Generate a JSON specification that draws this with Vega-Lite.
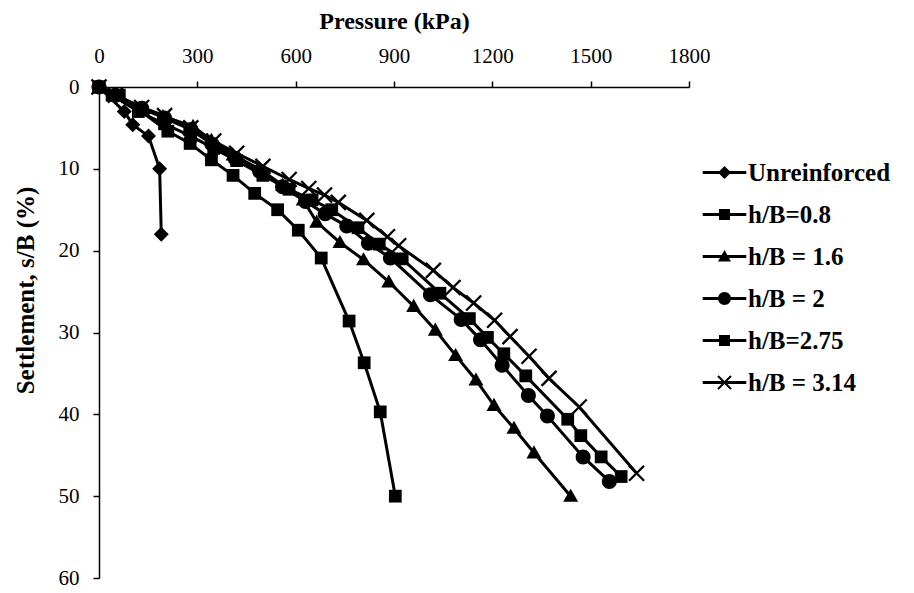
{
  "$schema": "https://vega.github.io/schema/vega-lite/v6.json",
  "width": 590,
  "height": 491,
  "autosize": "none",
  "padding": {"left": 99, "top": 87, "right": 225, "bottom": 15},
  "background": "white",
  "config": {"view": {"stroke": null}, "font": "Liberation Serif"},
  "data": {"values": [
    {"s": "Unreinforced", "p": 0, "y": 0},
    {"s": "Unreinforced", "p": 77, "y": 3},
    {"s": "Unreinforced", "p": 103, "y": 4.6},
    {"s": "Unreinforced", "p": 151, "y": 6},
    {"s": "Unreinforced", "p": 185, "y": 10},
    {"s": "Unreinforced", "p": 190, "y": 18},
    {"s": "h/B=0.8", "p": 0, "y": 0},
    {"s": "h/B=0.8", "p": 62, "y": 1},
    {"s": "h/B=0.8", "p": 210, "y": 5.4},
    {"s": "h/B=0.8", "p": 278, "y": 6.9},
    {"s": "h/B=0.8", "p": 343, "y": 8.9},
    {"s": "h/B=0.8", "p": 409, "y": 10.8},
    {"s": "h/B=0.8", "p": 475, "y": 13},
    {"s": "h/B=0.8", "p": 545, "y": 15},
    {"s": "h/B=0.8", "p": 608, "y": 17.5},
    {"s": "h/B=0.8", "p": 678, "y": 20.9},
    {"s": "h/B=0.8", "p": 763, "y": 28.6},
    {"s": "h/B=0.8", "p": 809, "y": 33.7},
    {"s": "h/B=0.8", "p": 858, "y": 39.7},
    {"s": "h/B=0.8", "p": 904, "y": 50},
    {"s": "h/B = 1.6", "p": 0, "y": 0},
    {"s": "h/B = 1.6", "p": 50, "y": 1},
    {"s": "h/B = 1.6", "p": 138, "y": 2.6},
    {"s": "h/B = 1.6", "p": 195, "y": 3.6},
    {"s": "h/B = 1.6", "p": 287, "y": 4.8},
    {"s": "h/B = 1.6", "p": 343, "y": 6.5},
    {"s": "h/B = 1.6", "p": 409, "y": 8.3},
    {"s": "h/B = 1.6", "p": 493, "y": 10.1},
    {"s": "h/B = 1.6", "p": 560, "y": 12},
    {"s": "h/B = 1.6", "p": 623, "y": 13.8},
    {"s": "h/B = 1.6", "p": 664, "y": 16.5},
    {"s": "h/B = 1.6", "p": 735, "y": 19},
    {"s": "h/B = 1.6", "p": 807, "y": 21.1},
    {"s": "h/B = 1.6", "p": 884, "y": 23.8},
    {"s": "h/B = 1.6", "p": 960, "y": 26.8},
    {"s": "h/B = 1.6", "p": 1026, "y": 29.7},
    {"s": "h/B = 1.6", "p": 1088, "y": 32.8},
    {"s": "h/B = 1.6", "p": 1150, "y": 35.8},
    {"s": "h/B = 1.6", "p": 1205, "y": 38.9},
    {"s": "h/B = 1.6", "p": 1266, "y": 41.7},
    {"s": "h/B = 1.6", "p": 1327, "y": 44.7},
    {"s": "h/B = 1.6", "p": 1439, "y": 50},
    {"s": "h/B = 2", "p": 0, "y": 0},
    {"s": "h/B = 2", "p": 50, "y": 1},
    {"s": "h/B = 2", "p": 130, "y": 2.6},
    {"s": "h/B = 2", "p": 200, "y": 3.8},
    {"s": "h/B = 2", "p": 280, "y": 5.2},
    {"s": "h/B = 2", "p": 345, "y": 7},
    {"s": "h/B = 2", "p": 415, "y": 8.7},
    {"s": "h/B = 2", "p": 490, "y": 10.3},
    {"s": "h/B = 2", "p": 560, "y": 12.2},
    {"s": "h/B = 2", "p": 630, "y": 14},
    {"s": "h/B = 2", "p": 690, "y": 15.5},
    {"s": "h/B = 2", "p": 756, "y": 17},
    {"s": "h/B = 2", "p": 822, "y": 19.1},
    {"s": "h/B = 2", "p": 889, "y": 20.9},
    {"s": "h/B = 2", "p": 1011, "y": 25.4},
    {"s": "h/B = 2", "p": 1105, "y": 28.4},
    {"s": "h/B = 2", "p": 1164, "y": 30.9},
    {"s": "h/B = 2", "p": 1230, "y": 34},
    {"s": "h/B = 2", "p": 1310, "y": 37.7},
    {"s": "h/B = 2", "p": 1368, "y": 40.2},
    {"s": "h/B = 2", "p": 1477, "y": 45.2},
    {"s": "h/B = 2", "p": 1557, "y": 48.2},
    {"s": "h/B=2.75", "p": 0, "y": 0},
    {"s": "h/B=2.75", "p": 40, "y": 1},
    {"s": "h/B=2.75", "p": 120, "y": 3},
    {"s": "h/B=2.75", "p": 200, "y": 4.5},
    {"s": "h/B=2.75", "p": 280, "y": 6},
    {"s": "h/B=2.75", "p": 350, "y": 7.5},
    {"s": "h/B=2.75", "p": 420, "y": 9},
    {"s": "h/B=2.75", "p": 500, "y": 10.8},
    {"s": "h/B=2.75", "p": 580, "y": 12.5},
    {"s": "h/B=2.75", "p": 650, "y": 13.8},
    {"s": "h/B=2.75", "p": 710, "y": 15},
    {"s": "h/B=2.75", "p": 790, "y": 17.2},
    {"s": "h/B=2.75", "p": 855, "y": 19.2},
    {"s": "h/B=2.75", "p": 925, "y": 21},
    {"s": "h/B=2.75", "p": 1040, "y": 25.2},
    {"s": "h/B=2.75", "p": 1130, "y": 28.3},
    {"s": "h/B=2.75", "p": 1185, "y": 30.6},
    {"s": "h/B=2.75", "p": 1235, "y": 32.6},
    {"s": "h/B=2.75", "p": 1302, "y": 35.3},
    {"s": "h/B=2.75", "p": 1430, "y": 40.6},
    {"s": "h/B=2.75", "p": 1470, "y": 42.6},
    {"s": "h/B=2.75", "p": 1532, "y": 45.2},
    {"s": "h/B=2.75", "p": 1593, "y": 47.6},
    {"s": "h/B = 3.14", "p": 0, "y": 0},
    {"s": "h/B = 3.14", "p": 50, "y": 1},
    {"s": "h/B = 3.14", "p": 130, "y": 2.5},
    {"s": "h/B = 3.14", "p": 200, "y": 3.5},
    {"s": "h/B = 3.14", "p": 280, "y": 5},
    {"s": "h/B = 3.14", "p": 350, "y": 6.6},
    {"s": "h/B = 3.14", "p": 420, "y": 8.1},
    {"s": "h/B = 3.14", "p": 500, "y": 9.7},
    {"s": "h/B = 3.14", "p": 580, "y": 11.3},
    {"s": "h/B = 3.14", "p": 640, "y": 12.4},
    {"s": "h/B = 3.14", "p": 688, "y": 13.2},
    {"s": "h/B = 3.14", "p": 730, "y": 14.1},
    {"s": "h/B = 3.14", "p": 817, "y": 16.3},
    {"s": "h/B = 3.14", "p": 880, "y": 18.3},
    {"s": "h/B = 3.14", "p": 914, "y": 19.4},
    {"s": "h/B = 3.14", "p": 1020, "y": 22.4},
    {"s": "h/B = 3.14", "p": 1080, "y": 24.5},
    {"s": "h/B = 3.14", "p": 1143, "y": 26.4},
    {"s": "h/B = 3.14", "p": 1207, "y": 28.5},
    {"s": "h/B = 3.14", "p": 1254, "y": 30.5},
    {"s": "h/B = 3.14", "p": 1312, "y": 32.9},
    {"s": "h/B = 3.14", "p": 1373, "y": 35.6},
    {"s": "h/B = 3.14", "p": 1465, "y": 39.1},
    {"s": "h/B = 3.14", "p": 1640, "y": 47.2}
  ]},
  "encoding": {
    "x": {
      "field": "p", "type": "quantitative",
      "scale": {"domain": [0, 1800], "nice": false},
      "axis": {
        "orient": "top", "values": [0, 300, 600, 900, 1200, 1500, 1800], "format": "d",
        "title": "Pressure (kPa)", "grid": false,
        "domainColor": "black", "domainWidth": 1.5,
        "tickColor": "black", "tickWidth": 1.5, "tickSize": 6,
        "labelFont": "Liberation Serif", "labelFontSize": 21, "labelColor": "black",
        "labelPadding": 15, "labelFlush": false, "labelOverlap": false,
        "titleFont": "Liberation Serif", "titleFontSize": 24, "titleFontWeight": "bold",
        "titleColor": "black", "titlePadding": 12
      }
    },
    "y": {
      "field": "y", "type": "quantitative",
      "scale": {"domain": [0, 60], "reverse": true, "nice": false},
      "axis": {
        "values": [0, 10, 20, 30, 40, 50, 60], "format": "d",
        "title": "Settlement, s/B (%)", "grid": false,
        "domainColor": "black", "domainWidth": 1.5,
        "tickColor": "black", "tickWidth": 1.5, "tickSize": 6,
        "labelFont": "Liberation Serif", "labelFontSize": 21, "labelColor": "black",
        "labelPadding": 14, "labelFlush": false, "labelOverlap": false,
        "titleFont": "Liberation Serif", "titleFontSize": 25, "titleFontWeight": "bold",
        "titleColor": "black", "titlePadding": 20, "titleY": 203
      }
    }
  },
  "layer": [
    {
      "mark": {"type": "line", "strokeWidth": 3, "opacity": 1},
      "encoding": {
        "color": {
          "field": "s", "type": "nominal",
          "sort": ["Unreinforced", "h/B=0.8", "h/B = 1.6", "h/B = 2", "h/B=2.75", "h/B = 3.14"],
          "scale": {"range": ["black", "black", "black", "black", "black", "black"]},
          "legend": {
            "title": null,
            "orient": "none", "legendX": 613, "legendY": 73,
            "symbolType": "M-3.35,0H3.35", "symbolSize": 169,
            "symbolStrokeColor": "black", "symbolStrokeWidth": 3, "symbolOpacity": 1,
            "labelFont": "Liberation Serif", "labelFontSize": 25, "labelFontWeight": "bold",
            "labelOpacity": 0, "labelLimit": 0, "labelOffset": 11, "rowPadding": 16
          }
        }
      }
    },
    {
      "mark": {"type": "point", "filled": true, "color": "black", "opacity": 1, "size": 225},
      "encoding": {
        "shape": {
          "field": "s", "type": "nominal",
          "scale": {
            "domain": ["Unreinforced", "h/B=0.8", "h/B = 1.6", "h/B = 2", "h/B=2.75", "h/B = 3.14"],
            "range": [
              "M0,-1L1,0L0,1L-1,0Z",
              "M-0.85,-0.85H0.85V0.85H-0.85Z",
              "M0,-1L1,0.75H-1Z",
              "M-1,0A1,1 0 1,1 1,0A1,1 0 1,1 -1,0Z",
              "M-0.85,-0.85H0.85V0.85H-0.85Z",
              "M-1.11,-0.89L-0.89,-1.11L1.11,0.89L0.89,1.11Z M-0.89,1.11L-1.11,0.89L0.89,-1.11L1.11,-0.89Z"
            ]
          },
          "legend": {
            "title": null,
            "orient": "none", "legendX": 613, "legendY": 73,
            "symbolSize": 169, "symbolFillColor": "black", "symbolStrokeColor": "black",
            "symbolStrokeWidth": 0, "symbolOpacity": 1,
            "labelFont": "Liberation Serif", "labelFontSize": 25, "labelFontWeight": "bold",
            "labelColor": "black", "labelLimit": 0, "labelOffset": 11, "rowPadding": 16
          }
        }
      }
    }
  ]
}
